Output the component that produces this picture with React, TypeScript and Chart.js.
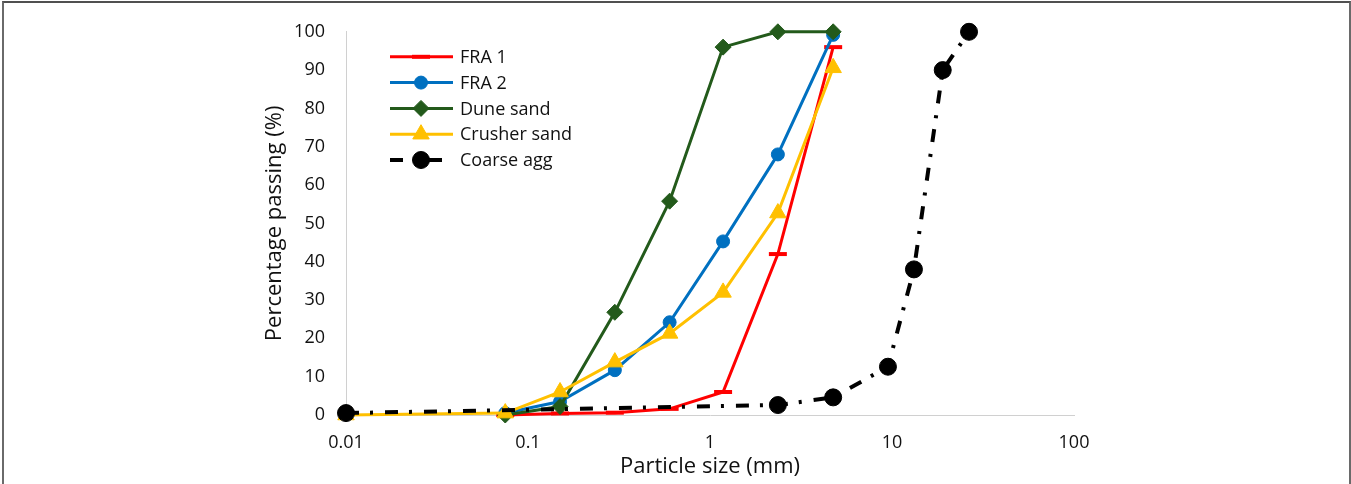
import React, { useEffect, useRef } from 'react';
import { Chart, registerables } from 'chart.js';
import { drawPoint } from 'chart.js/helpers';

Chart.register(...registerables);

// ---- Data ----
const xTickValues = [0.01, 0.1, 1, 10, 100];

const fra1Sizes = [0.075, 0.15, 0.3, 0.6, 1.18, 2.36, 4.75];
const fra1Passing = [0, 0.4, 0.6, 1.6, 6, 42, 96];

const fra2Sizes = [0.075, 0.15, 0.3, 0.6, 1.18, 2.36, 4.75];
const fra2Passing = [0.5, 3.5, 11.7, 24.2, 45.3, 68, 99.2];

const duneSizes = [0.075, 0.15, 0.3, 0.6, 1.18, 2.36, 4.75];
const dunePassing = [0, 2.2, 26.8, 55.8, 96, 100, 100];

const crusherSizes = [0.01, 0.075, 0.15, 0.3, 0.6, 1.18, 2.36, 4.75];
const crusherPassing = [0, 0.5, 6, 13.8, 21.3, 32, 52.7, 90.6];

const coarseSizes = [0.01, 2.36, 4.75, 9.5, 13.2, 19, 26.5];
const coarsePassing = [0.5, 2.6, 4.6, 12.6, 38, 90, 100];

const seriesNames = ['FRA 1', 'FRA 2', 'Dune sand', 'Crusher sand', 'Coarse agg'];

const FONT = '"Open Sans", "Liberation Sans", sans-serif';
const TEXT = '#111111';

const toPoints = (xs: number[], ys: number[]) => xs.map((x, i) => ({ x, y: ys[i] }));

const legendPlugin = {
  id: 'insideLegend',
  afterDatasetsDraw(chart: any) {
    const ctx: CanvasRenderingContext2D = chart.ctx;
    const area = chart.chartArea;
    const x0 = area.left + 44;
    const x1 = area.left + 107;
    const xm = area.left + 75;
    const xt = area.left + 114;
    chart.data.datasets.forEach((ds: any, i: number) => {
      const y = area.top + 25 + i * 25.8;
      ctx.save();
      ctx.strokeStyle = ds.borderColor;
      ctx.lineWidth = ds.borderWidth;
      ctx.setLineDash(ds.borderDash || []);
      ctx.beginPath();
      ctx.moveTo(x0, y);
      ctx.lineTo(x1, y);
      ctx.stroke();
      ctx.setLineDash([]);
      ctx.fillStyle = ds.pointBackgroundColor;
      ctx.strokeStyle = ds.pointBorderColor;
      ctx.lineWidth = ds.pointBorderWidth;
      drawPoint(ctx, {
        pointStyle: ds.pointStyle,
        rotation: 0,
        radius: ds.pointRadius,
        borderWidth: ds.pointBorderWidth,
      } as any, xm, y);
      ctx.fillStyle = TEXT;
      ctx.font = `18px ${FONT}`;
      ctx.textAlign = 'left';
      ctx.textBaseline = 'middle';
      ctx.fillText(ds.label, xt, y + 1);
      ctx.restore();
    });
  },
};

export default function App() {
  const canvasRef = useRef<HTMLCanvasElement | null>(null);

  useEffect(() => {
    if (!canvasRef.current) return;
    const chart = new Chart(canvasRef.current, {
      type: 'line',
      data: {
        datasets: [
          {
            label: seriesNames[0],
            data: toPoints(fra1Sizes, fra1Passing),
            borderColor: '#FF0000',
            borderWidth: 3,
            pointStyle: 'line',
            pointRadius: 9,
            pointBorderWidth: 4,
            pointBorderColor: '#FF0000',
            pointBackgroundColor: '#FF0000',
            clip: false,
            order: 5,
          },
          {
            label: seriesNames[1],
            data: toPoints(fra2Sizes, fra2Passing),
            borderColor: '#0070C0',
            borderWidth: 3,
            pointStyle: 'circle',
            pointRadius: 6.5,
            pointBorderWidth: 1,
            pointBorderColor: '#0070C0',
            pointBackgroundColor: '#0070C0',
            clip: false,
            order: 4,
          },
          {
            label: seriesNames[2],
            data: toPoints(duneSizes, dunePassing),
            borderColor: '#235A1B',
            borderWidth: 3,
            pointStyle: 'rectRot',
            pointRadius: 8,
            pointBorderWidth: 1,
            pointBorderColor: '#235A1B',
            pointBackgroundColor: '#235A1B',
            clip: false,
            order: 3,
          },
          {
            label: seriesNames[3],
            data: toPoints(crusherSizes, crusherPassing),
            borderColor: '#FFC000',
            borderWidth: 3,
            pointStyle: 'triangle',
            pointRadius: 9.5,
            pointBorderWidth: 1,
            pointBorderColor: '#FFC000',
            pointBackgroundColor: '#FFC000',
            clip: false,
            order: 2,
          },
          {
            label: seriesNames[4],
            data: toPoints(coarseSizes, coarsePassing),
            borderColor: '#000000',
            borderWidth: 4,
            borderDash: [13, 11, 3, 12],
            pointStyle: 'circle',
            pointRadius: 8.5,
            pointBorderWidth: 1,
            pointBorderColor: '#000000',
            pointBackgroundColor: '#000000',
            clip: false,
            order: 1,
          },
        ] as any,
      },
      options: {
        responsive: false,
        animation: false,
        events: [],
        layout: { padding: { left: 250, top: 30, right: 277, bottom: 0 } },
        plugins: {
          legend: { display: false },
          tooltip: { enabled: false },
        },
        elements: { line: { tension: 0 } },
        scales: {
          x: {
            type: 'logarithmic',
            min: 0.01,
            max: 100,
            afterBuildTicks: (scale: any) => {
              scale.ticks = xTickValues.map((v) => ({ value: v }));
            },
            afterFit: (scale: any) => {
              scale.height = 69;
            },
            grid: { display: false, drawTicks: false },
            border: { display: true, color: '#D0D0D0', width: 1 },
            ticks: {
              autoSkip: false,
              maxRotation: 0,
              padding: 17,
              color: TEXT,
              font: { family: FONT, size: 18 },
              callback: (v: any) => String(v),
            },
            title: {
              display: true,
              text: 'Particle size (mm)',
              color: TEXT,
              font: { family: FONT, size: 22 },
              padding: { top: 0, bottom: 4 },
            },
          },
          y: {
            type: 'linear',
            min: 0,
            max: 100,
            afterFit: (scale: any) => {
              scale.width = 96;
            },
            grid: { display: false, drawTicks: false },
            border: { display: true, color: '#D0D0D0', width: 1 },
            ticks: {
              stepSize: 10,
              padding: 21,
              color: TEXT,
              font: { family: FONT, size: 18 },
            },
            title: {
              display: true,
              text: 'Percentage passing (%)',
              color: TEXT,
              font: { family: FONT, size: 22 },
              padding: { top: 12, bottom: 0 },
            },
          },
        },
      } as any,
      plugins: [legendPlugin],
    });
    return () => chart.destroy();
  }, []);

  return (
    <div style={{ position: 'absolute', left: 0, top: 0, width: 1351, height: 484, background: '#fff', overflow: 'hidden' }}>
      <canvas ref={canvasRef} width={1351} height={484} style={{ display: 'block' }} />
      <div
        style={{
          position: 'absolute',
          left: 2,
          top: 1,
          width: 1345,
          height: 520,
          borderTop: '2px solid #505050',
          borderLeft: '2px solid #6a6a6a',
          borderRight: '2px solid #6a6a6a',
          pointerEvents: 'none',
        }}
      />
    </div>
  );
}
